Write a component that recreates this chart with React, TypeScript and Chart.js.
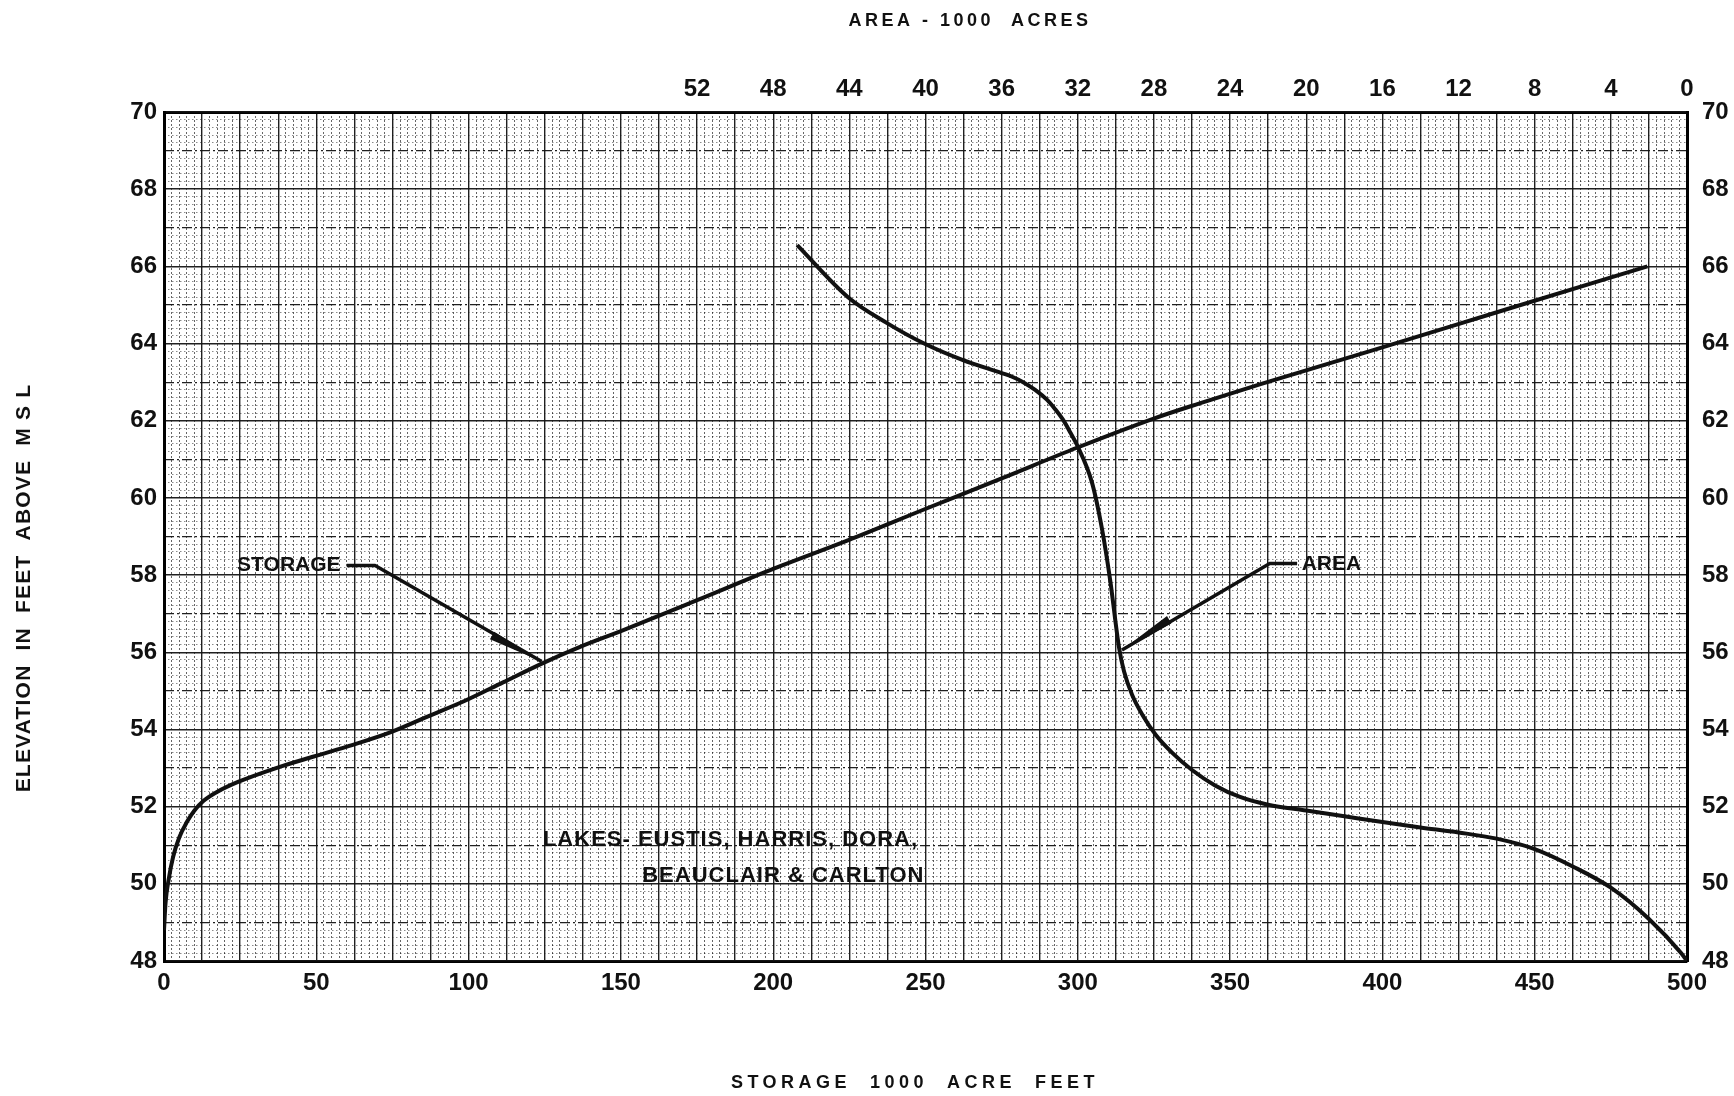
import React, { useEffect, useRef } from 'react';
import { Chart, registerables } from 'chart.js';

Chart.register(...registerables);

// ---- Data ----
// Storage curve: storage (1000 acre-feet) vs elevation (ft above MSL)
const storageThousandAcreFeet = [0, 0.5, 1.5, 3, 5, 7.5, 10, 13, 17.4, 24.3, 36.8, 49.2, 62, 74.5, 86.7, 99, 111.3, 124.4, 136.6, 150, 175, 199, 224.5, 249.5, 274.8, 299.7, 324.7, 340, 360, 400, 440, 487];
const storageElevation = [48.8, 49.5, 50.1, 50.7, 51.2, 51.6, 51.9, 52.15, 52.38, 52.64, 53.0, 53.3, 53.6, 53.93, 54.34, 54.75, 55.22, 55.72, 56.14, 56.55, 57.35, 58.13, 58.9, 59.7, 60.5, 61.3, 62.05, 62.45, 62.95, 63.9, 64.87, 66.0];

// Area curve: area (1000 acres) vs elevation (ft above MSL)
const areaThousandAcres = [46.74, 44.07, 42.02, 40.07, 38.03, 36.03, 35.45, 34.87, 34.24, 33.61, 33.19, 32.77, 32.41, 32.04, 31.25, 30.72, 30.3, 29.83, 29.57, 29.15, 28.57, 27.89, 27.05, 26.0, 24.79, 23.48, 22.0, 20.0, 18.0, 16.0, 14.0, 12.0, 10.0, 8.0, 6.0, 4.0, 2.0, 0.3, 0];
const areaElevation = [66.55, 65.2, 64.53, 64.0, 63.57, 63.24, 63.14, 63.0, 62.8, 62.54, 62.3, 62.02, 61.71, 61.37, 60.39, 59.17, 57.87, 56.11, 55.5, 54.9, 54.35, 53.85, 53.4, 52.95, 52.55, 52.25, 52.05, 51.9, 51.75, 51.6, 51.46, 51.33, 51.17, 50.9, 50.45, 49.9, 49.09, 48.2, 48.0];

// Tick labels
const storageTickLabels = [0, 50, 100, 150, 200, 250, 300, 350, 400, 450, 500];
const areaTickLabels = [52, 48, 44, 40, 36, 32, 28, 24, 20, 16, 12, 8, 4, 0];
const elevationTickLabels = [48, 50, 52, 54, 56, 58, 60, 62, 64, 66, 68, 70];

// Texts
const TOP_TITLE = 'AREA - 1000  ACRES';
const BOTTOM_TITLE = 'STORAGE  1000  ACRE  FEET';
const LEFT_TITLE = 'ELEVATION  IN  FEET  ABOVE  M S L';
const STORAGE_LABEL = 'STORAGE';
const AREA_LABEL = 'AREA';
const LAKES_LINE_1 = 'LAKES- EUSTIS, HARRIS, DORA,';
const LAKES_LINE_2 = 'BEAUCLAIR & CARLTON';

const FONT = '"Liberation Sans", Arial, sans-serif';
const INK = '#111';
const MAJOR = 'rgba(20,20,20,0.95)';
const MINOR_V = 'rgba(0,0,0,0.6)';
const MINOR_H = 'rgba(0,0,0,0.45)';

const near = (a: number, b: number) => Math.abs(a - b) < 1e-6;

function drawLeader(ctx: CanvasRenderingContext2D, pts: number[][]) {
  ctx.beginPath();
  ctx.moveTo(pts[0][0], pts[0][1]);
  for (let i = 1; i < pts.length; i++) ctx.lineTo(pts[i][0], pts[i][1]);
  ctx.lineWidth = 3.5;
  ctx.lineJoin = 'round';
  ctx.stroke();
  const T = pts[pts.length - 1];
  const P = pts[pts.length - 2];
  const dx = T[0] - P[0];
  const dy = T[1] - P[1];
  const len = Math.hypot(dx, dy);
  const ux = dx / len, uy = dy / len;
  const nx = -uy, ny = ux;
  const bx = T[0] - ux * 56, by = T[1] - uy * 56;
  ctx.beginPath();
  ctx.moveTo(T[0], T[1]);
  ctx.lineTo(bx + nx * 6.5, by + ny * 6.5);
  ctx.lineTo(bx - nx * 2, by - ny * 2);
  ctx.closePath();
  ctx.fill();
}

const annotationPlugin = {
  id: 'lakeAnnotations',
  afterDatasetsDraw(chart: any) {
    const { ctx, scales } = chart;
    const px = (v: number) => scales.x.getPixelForValue(v);
    const py = (v: number) => scales.y.getPixelForValue(v);
    ctx.save();
    ctx.fillStyle = INK;
    ctx.strokeStyle = INK;
    ctx.textBaseline = 'middle';
    ctx.textAlign = 'left';
    ctx.font = `bold 21px ${FONT}`;
    ctx.fillText(STORAGE_LABEL, px(24), py(58.25));
    drawLeader(ctx, [[px(60), py(58.25)], [px(69.3), py(58.25)], [px(124), py(55.76)]]);
    ctx.fillText(AREA_LABEL, px(373.5), py(58.27));
    drawLeader(ctx, [[px(372), py(58.3)], [px(363), py(58.3)], [px(314.5), py(56.06)]]);
    ctx.font = `bold 22px ${FONT}`;
    (ctx as any).letterSpacing = '1px';
    ctx.fillText(LAKES_LINE_1, px(124.4), py(51.14));
    ctx.fillText(LAKES_LINE_2, px(157), py(50.2));
    ctx.restore();
  },
};

const titlePlugin = {
  id: 'axisTitles',
  afterDraw(chart: any) {
    const ctx = chart.ctx;
    ctx.save();
    ctx.fillStyle = INK;
    ctx.textAlign = 'center';
    ctx.textBaseline = 'middle';
    ctx.font = `bold 18px ${FONT}`;
    (ctx as any).letterSpacing = '3.5px';
    ctx.fillText(TOP_TITLE, 970, 21);
    (ctx as any).letterSpacing = '4.5px';
    ctx.fillText(BOTTOM_TITLE, 915, 1083);
    (ctx as any).letterSpacing = '1.2px';
    ctx.font = `bold 21px ${FONT}`;
    ctx.translate(24, 588);
    ctx.rotate(-Math.PI / 2);
    ctx.fillText(LEFT_TITLE, 0, 0);
    ctx.restore();
  },
};

const tickFont = { family: FONT, size: 24, weight: 'bold' as const };

export default function App() {
  const ref = useRef<HTMLCanvasElement>(null);

  useEffect(() => {
    const canvas = ref.current;
    if (!canvas) return;
    const storagePoints = storageThousandAcreFeet.map((s, i) => ({ x: s, y: storageElevation[i] }));
    const areaPoints = areaThousandAcres.map((a, i) => ({ x: a, y: areaElevation[i] }));

    const chart = new Chart(canvas, {
      type: 'scatter',
      data: {
        datasets: [
          {
            label: 'Storage',
            data: storagePoints,
            xAxisID: 'x',
            yAxisID: 'y',
            showLine: true,
            borderColor: INK,
            borderWidth: 4,
            pointRadius: 0,
            cubicInterpolationMode: 'monotone',
            fill: false,
          },
          {
            label: 'Area',
            data: areaPoints,
            xAxisID: 'xArea',
            yAxisID: 'y',
            showLine: true,
            borderColor: INK,
            borderWidth: 4,
            pointRadius: 0,
            cubicInterpolationMode: 'monotone',
            fill: false,
          },
        ],
      },
      options: {
        responsive: false,
        maintainAspectRatio: false,
        animation: false,
        devicePixelRatio: 1,
        layout: { padding: 0 },
        plugins: { legend: { display: false }, tooltip: { enabled: false }, title: { display: false } },
        scales: {
          x: {
            type: 'linear',
            position: 'bottom',
            min: 0,
            max: 500,
            ticks: {
              stepSize: 12.5,
              autoSkip: false,
              maxRotation: 0,
              padding: 8,
              color: INK,
              font: tickFont,
              callback: (v: any) => (storageTickLabels.includes(Number(v)) ? String(v) : ''),
            },
            grid: { color: MAJOR, lineWidth: 1.4, drawTicks: false, z: 0 },
            border: { display: true, color: '#000', width: 3 },
            afterFit: (s: any) => { s.height = 135; },
          },
          xArea: {
            type: 'linear',
            position: 'top',
            min: 0,
            max: 80,
            reverse: true,
            ticks: {
              stepSize: 4,
              autoSkip: false,
              maxRotation: 0,
              padding: 8,
              color: INK,
              font: tickFont,
              callback: (v: any) => (areaTickLabels.includes(Number(v)) ? String(v) : ''),
            },
            grid: { drawOnChartArea: false, drawTicks: false },
            border: { display: true, color: '#000', width: 3 },
            afterFit: (s: any) => { s.height = 112; },
          },
          xMinor: {
            type: 'linear',
            position: 'bottom',
            min: 0,
            max: 500,
            ticks: { display: false, stepSize: 2.5, autoSkip: false },
            grid: {
              color: (c: any) => (near(c.tick.value / 12.5, Math.round(c.tick.value / 12.5)) ? 'rgba(0,0,0,0)' : MINOR_V),
              lineWidth: 1,
              drawTicks: false,
              z: -2,
            },
            border: { display: false, dash: [2, 2] },
            afterFit: (s: any) => { s.height = 0; },
          },
          y: {
            type: 'linear',
            position: 'left',
            min: 48,
            max: 70,
            ticks: {
              stepSize: 2,
              autoSkip: false,
              padding: 7,
              color: INK,
              font: tickFont,
              callback: (v: any) => (elevationTickLabels.includes(Number(v)) ? String(v) : ''),
            },
            grid: { color: MAJOR, lineWidth: 1.5, drawTicks: false, z: 0 },
            border: { display: true, color: '#000', width: 3 },
            afterFit: (s: any) => { s.width = 164; },
          },
          yOdd: {
            type: 'linear',
            position: 'left',
            min: 48,
            max: 70,
            ticks: { display: false, stepSize: 1, autoSkip: false },
            grid: {
              color: (c: any) => (Math.round(c.tick.value) % 2 === 1 ? MAJOR : 'rgba(0,0,0,0)'),
              lineWidth: 1.2,
              drawTicks: false,
              z: -1,
            },
            border: { display: false, dash: [10, 3, 2, 3] },
            afterFit: (s: any) => { s.width = 0; },
          },
          yMinor: {
            type: 'linear',
            position: 'left',
            min: 48,
            max: 70,
            ticks: { display: false, stepSize: 0.2, autoSkip: false },
            grid: {
              color: (c: any) => (near(c.tick.value, Math.round(c.tick.value)) ? 'rgba(0,0,0,0)' : MINOR_H),
              lineWidth: 1,
              drawTicks: false,
              z: -2,
            },
            border: { display: false, dash: [1.5, 2.5] },
            afterFit: (s: any) => { s.width = 0; },
          },
          yRight: {
            type: 'linear',
            position: 'right',
            min: 48,
            max: 70,
            ticks: {
              stepSize: 2,
              autoSkip: false,
              padding: 15,
              color: INK,
              font: tickFont,
              callback: (v: any) => (elevationTickLabels.includes(Number(v)) ? String(v) : ''),
            },
            grid: { drawOnChartArea: false, drawTicks: false },
            border: { display: true, color: '#000', width: 3 },
            afterFit: (s: any) => { s.width = 47; },
          },
        },
      } as any,
      plugins: [annotationPlugin, titlePlugin],
    });

    return () => chart.destroy();
  }, []);

  return (
    <div style={{ position: 'absolute', left: 0, top: 0, width: 1734, height: 1096, background: '#fff' }}>
      <canvas ref={ref} width={1734} height={1096} style={{ display: 'block', width: 1734, height: 1096 }} />
    </div>
  );
}
